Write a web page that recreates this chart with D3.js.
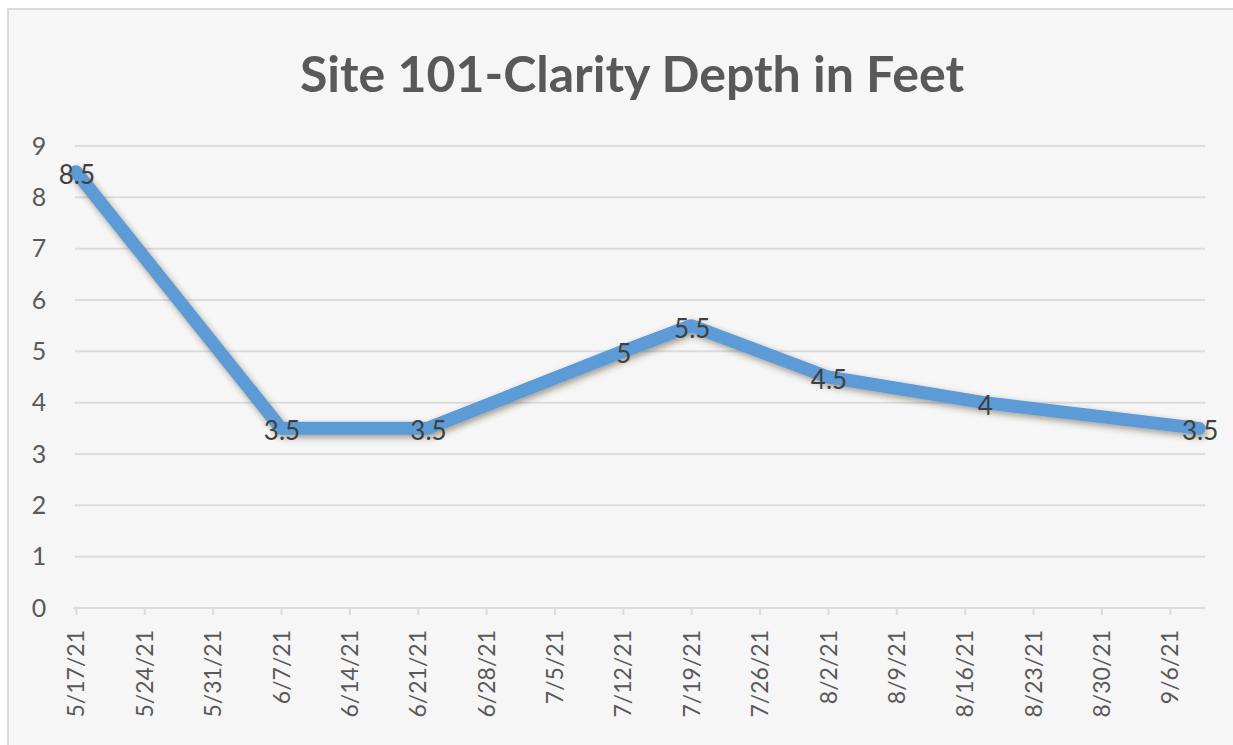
<!DOCTYPE html>
<html>
<head>
<meta charset="utf-8">
<script src="https://cdn.jsdelivr.net/npm/d3@7"></script>
<style>
  body { margin: 0; background: #ffffff; }
  svg { display: block; font-family: Lato, "Open Sans", sans-serif; }
</style>
</head>
<body>
<div id="chart"></div>
<script>
// chart data (dates of each clarity reading, depth in feet)
var sampleDates = ["2021-05-17", "2021-06-07", "2021-06-22", "2021-07-12",
                   "2021-07-19", "2021-08-02", "2021-08-18", "2021-09-09"]
var depths      = [8.5, 3.5, 3.5, 5, 5.5, 4.5, 4, 3.5]

// weekly tick dates on the x axis
var tickDates = ["2021-05-17", "2021-05-24", "2021-05-31", "2021-06-07", "2021-06-14",
                 "2021-06-21", "2021-06-28", "2021-07-05", "2021-07-12", "2021-07-19",
                 "2021-07-26", "2021-08-02", "2021-08-09", "2021-08-16", "2021-08-23",
                 "2021-08-30", "2021-09-06"]
var yTicks = [0, 1, 2, 3, 4, 5, 6, 7, 8, 9]
var title  = "Site 101-Clarity Depth in Feet"

var svgWidth  = 1233
var svgHeight = 745
var textColor = "#595959"
var gridColor = "#dcdcdc"
var lineColor = "#5b9bd5"

var parseDate = d3.timeParse("%Y-%m-%d")
var formatTick = function(d) {
   return (d.getMonth() + 1) + "/" + d.getDate() + "/" + String(d.getFullYear()).slice(2)
}

var data = sampleDates.map(function(d, i) {
   return { date: parseDate(d), value: depths[i] }
})
var ticks = tickDates.map(parseDate)

// half a day of padding either side, like Excel's date axis
var xStart = d3.timeHour.offset(data[0].date, -12)
var xEnd   = d3.timeHour.offset(data[data.length - 1].date, 12)

var x = d3.scaleTime()
.domain([xStart, xEnd])
.range([71, 1204])

var y = d3.scaleLinear()
.domain([0, 9])
.range([608, 146])

var svg = d3.select("#chart")
.append("svg")
.attr("width", svgWidth)
.attr("height", svgHeight)

// drop shadow under the line
var defs = svg.append("defs")
var shadow = defs.append("filter")
.attr("id", "shadow")
.attr("x", "-10%").attr("y", "-10%")
.attr("width", "120%").attr("height", "130%")
shadow.append("feDropShadow")
.attr("dx", 2).attr("dy", 3)
.attr("stdDeviation", 3)
.attr("flood-color", "#3a2a1a")
.attr("flood-opacity", 0.45)

// chart area background
svg.append("rect")
.attr("x", 8).attr("y", 9)
.attr("width", svgWidth).attr("height", svgHeight)
.attr("fill", "#f6f6f6")
.attr("stroke", "#dadada")
.attr("stroke-width", 2)

// title
svg.append("text")
.attr("x", 632)
.attr("y", 92)
.attr("text-anchor", "middle")
.attr("font-size", 50)
.attr("font-weight", "bold")
.attr("fill", textColor)
.attr("textLength", 664)
.attr("lengthAdjust", "spacingAndGlyphs")
.text(title)

// horizontal gridlines
svg.append("g")
.selectAll("line")
.data(yTicks.filter(function(d){ return d > 0 }))
.enter()
.append("line")
.attr("x1", 75).attr("x2", 1205)
.attr("y1", function(d){ return y(d) })
.attr("y2", function(d){ return y(d) })
.attr("stroke", gridColor)
.attr("stroke-width", 2)

// y axis labels
var yAxis = svg.append("g")
.attr("transform", "translate(48,0)")
.call(d3.axisLeft(y).tickValues(yTicks).tickSize(0).tickPadding(10))
yAxis.select(".domain").remove()
yAxis.selectAll("text")
.attr("font-family", "Lato, sans-serif")
.attr("font-size", 25)
.attr("text-anchor", "middle")
.attr("dx", 1)
.attr("fill", textColor)

// x axis
var xAxis = svg.append("g")
.attr("transform", "translate(0," + y(0) + ")")
.call(d3.axisBottom(x).tickValues(ticks).tickFormat(formatTick).tickSize(7).tickSizeOuter(0))
xAxis.select(".domain")
.attr("stroke", gridColor)
.attr("stroke-width", 2)
.attr("d", "M73,0H1205")
xAxis.selectAll(".tick line")
.attr("stroke", gridColor)
.attr("stroke-width", 2)
xAxis.selectAll("text")
.attr("font-family", "Lato, sans-serif")
.attr("font-size", 23)
.attr("fill", textColor)
.attr("text-anchor", "end")
.attr("transform", "rotate(-90)")
.attr("x", -22)
.attr("y", 0)
.attr("dy", "0.35em")

// the depth line
var line = d3.line()
.x(function(d){ return x(d.date) })
.y(function(d){ return y(d.value) })

svg.append("path")
.datum(data)
.attr("d", line)
.attr("fill", "none")
.attr("stroke", lineColor)
.attr("stroke-width", 13)
.attr("stroke-linejoin", "round")
.attr("stroke-linecap", "round")
.attr("filter", "url(#shadow)")

// data labels, centred on each point
svg.append("g")
.selectAll("text")
.data(data)
.enter()
.append("text")
.attr("x", function(d){ return x(d.date) + 1 })
.attr("y", function(d){ return y(d.value) + 3 })
.attr("text-anchor", "middle")
.attr("dy", "0.35em")
.attr("font-size", 26)
.attr("fill", "#404040")
.text(function(d){ return d.value })
</script>
</body>
</html>
